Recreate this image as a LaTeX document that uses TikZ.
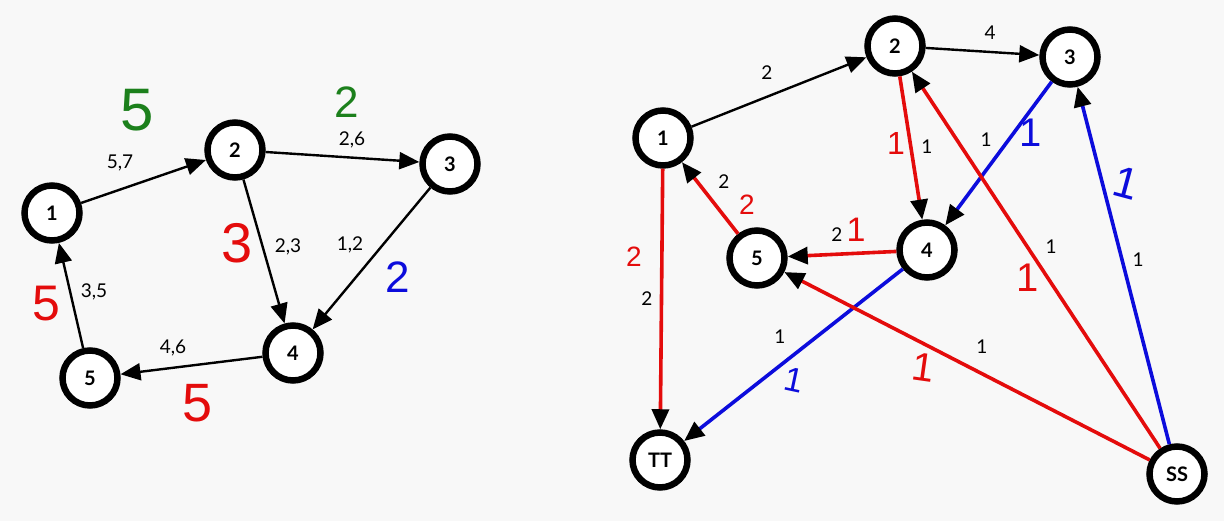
\documentclass[tikz,border=0pt]{standalone}
\usepackage{fontspec}
\setmainfont{Lato}
\newfontfamily\hand{Liberation Sans}
\usetikzlibrary{arrows.meta}
\definecolor{bg}{RGB}{248,248,248}
\definecolor{myred}{RGB}{228,12,12}
\definecolor{myblue}{RGB}{12,12,220}
\definecolor{mygreen}{RGB}{28,128,28}
\begin{document}
\begin{tikzpicture}[x=1pt,y=-1pt,
 vertex/.style={circle,draw=black,line width=6.5pt,fill=white,minimum size=55pt,inner sep=0pt,font=\bfseries\fontsize{20}{20}\selectfont},
 edge/.style={line width=2.4pt,-{Triangle[length=20pt,width=17pt]}},
 cedge/.style={line width=3.6pt,-{Triangle[length=20pt,width=17pt,color=black]}},
 lab/.style={font=\fontsize{19}{19}\selectfont},
 hw/.style={font=\hand\fontsize{#1}{#1}\selectfont}
]
\fill[bg] (0,0) rectangle (1224,521);
\useasboundingbox (0,0) rectangle (1224,521);
% left graph
\node[vertex] (a1) at (52,213) {1};
\node[vertex] (a2) at (235,150) {2};
\node[vertex] (a3) at (450,164) {3};
\node[vertex] (a4) at (293,353) {4};
\node[vertex] (a5) at (90,378) {5};
\draw[edge] (a1) -- (a2);
\draw[edge] (a2) -- (a3);
\draw[edge] (a2) -- (a4);
\draw[edge] (a3) -- (a4);
\draw[edge] (a4) -- (a5);
\draw[edge] (a5) -- (a1);
\node[lab] (l57) at (120,163) {5,7};
\node[lab] (l26) at (352,140) {2,6};
\node[lab] (l23) at (288,247) {2,3};
\node[lab] (l12) at (350,245) {1,2};
\node[lab] (l35) at (94,292) {3,5};
\node[lab] (l46) at (173,348) {4,6};
\node[hw=60,text=mygreen] (h1) at (137,110) {5};
\node[hw=44,text=mygreen] (h2) at (347,102) {2};
\node[hw=56,text=myred] (h3) at (237,243) {3};
\node[hw=44,text=myblue] (h4) at (398,277) {2};
\node[hw=50,text=myred] (h5) at (46,304) {5};
\node[hw=54,text=myred] (h6) at (198,403) {5};
% right graph
\node[vertex] (b1) at (663,138) {1};
\node[vertex] (b2) at (895,46) {2};
\node[vertex] (b3) at (1070,57) {3};
\node[vertex] (b4) at (927,250) {4};
\node[vertex] (b5) at (757,258) {5};
\node[vertex] (tt) at (660,460) {TT};
\node[vertex] (ss) at (1177,474) {SS};
\draw[edge] (b1) -- (b2);
\draw[edge] (b2) -- (b3);
\draw[cedge,myred] (b2) -- (b4);
\draw[cedge,myblue] (b3) -- (b4);
\draw[cedge,myred] (ss) -- (b2);
\draw[cedge,myblue] (ss) -- (b3);
\draw[cedge,myred] (b5) -- (b1);
\draw[cedge,myred] (b4) -- (b5);
\draw[cedge,myred] (b1) -- (tt);
\draw[cedge,myblue] (b4) -- (tt);
\draw[cedge,myred] (ss) -- (b5);
\node[lab] (r12) at (767,73) {2};
\node[lab] (r23) at (990,33) {4};
\node[lab] (r24) at (927,147) {1};
\node[lab] (r34) at (986,140) {1};
\node[lab] (rs2) at (1051,247) {1};
\node[lab] (rs3) at (1138,260) {1};
\node[lab] (r51) at (724,182) {2};
\node[lab] (r45) at (837,235) {2};
\node[lab] (r1t) at (647,299) {2};
\node[lab] (r4t) at (780,337) {1};
\node[lab] (rs5) at (982,347) {1};
\node[hw=32,text=myred] (g1) at (896,143) {1};
\node[hw=40,text=myblue] (g2) at (1031,133) {1};
\node[hw=44,text=myblue,rotate=-15] (g3) at (1126,183) {1};
\node[hw=40,text=myred] (g4) at (1028,278) {1};
\node[hw=28,text=myred] (g5) at (747,205) {2};
\node[hw=34,text=myred] (g6) at (856,230) {1};
\node[hw=28,text=myred] (g7) at (634,257) {2};
\node[hw=34,text=myblue,rotate=-12] (g8) at (794,380) {1};
\node[hw=40,text=myred,rotate=-8] (g9) at (923,367) {1};
\end{tikzpicture}
\end{document}
